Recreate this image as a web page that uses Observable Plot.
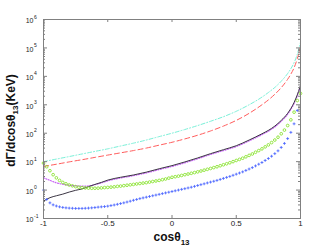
<!DOCTYPE html>
<html><head><meta charset="utf-8">
<script src="https://cdn.jsdelivr.net/npm/d3@7"></script>
<script src="https://cdn.jsdelivr.net/npm/@observablehq/plot@0.6"></script>
<style>body{margin:0;background:#fff} svg{display:block}</style>
</head><body><div id="chart"></div>
<script>
// ---- data ----
const cosDash = [-1,-0.9,-0.8,-0.7,-0.6,-0.5,-0.4,-0.3,-0.2,-0.1,0,0.1,0.2,0.3,0.4,0.5,0.6,0.7,0.75,0.8,0.85,0.9,0.925,0.95,0.975,1];
const cyanVals = [10,12.3,15.1,18.6,22.9,28.2,35.5,44.7,57.5,76,100,135,186,263,380,590,1000,1860,2700,4070,6760,12600,18600,30200,60000,158000];
const redVals  = [6.8,8.1,9.8,11.7,14.1,17,20.4,24.5,30,38,48,63,85,120,178,282,500,1000,1480,2340,4000,7900,12000,20000,42000,112000];

const cosLine = [-1,-0.95,-0.9,-0.85,-0.8,-0.75,-0.7,-0.65,-0.6,-0.55,-0.5,-0.4,-0.3,-0.2,-0.1,0,0.1,0.2,0.3,0.4,0.5,0.6,0.7,0.75,0.8,0.85,0.9,0.925,0.95,0.975,1];
const blackVals  = [0.41,0.54,0.63,0.72,0.85,0.98,1.1,1.32,1.58,1.86,2.24,2.82,3.39,4.27,5.62,7.24,9.77,13.5,19.1,26.3,36.3,57.5,95.5,126,178,282,501,741,1200,2240,4790];
const violetVals = [2.7,2.2,1.8,1.6,1.48,1.41,1.38,1.4,1.55,1.78,2.1,2.65,3.2,4.0,5.25,6.75,9.1,12.6,17.8,24.5,33.9,53.7,89,118,166,263,468,692,1120,2090,4470];

const cosPts = [-1,-0.975,-0.95,-0.925,-0.9,-0.875,-0.85,-0.825,-0.8,-0.775,
  -0.75,-0.725,-0.7,-0.675,-0.65,-0.625,-0.6,-0.575,-0.55,-0.525,
  -0.5,-0.475,-0.45,-0.425,-0.4,-0.375,-0.35,-0.325,-0.3,-0.275,
  -0.25,-0.225,-0.2,-0.175,-0.15,-0.125,-0.1,-0.075,-0.05,-0.025,
  0,0.025,0.05,0.075,0.1,0.125,0.15,0.175,0.2,0.225,
  0.25,0.275,0.3,0.325,0.35,0.375,0.4,0.425,0.45,0.475,
  0.5,0.525,0.55,0.575,0.6,0.625,0.65,0.675,0.7,0.725,
  0.75,0.775,0.8,0.825,0.85,0.875,0.9,0.925,0.95,0.975,1];
const greenVals = [8.91,6.61,4.79,3.47,2.69,2.19,1.86,1.66,1.51,1.41,
  1.32,1.26,1.22,1.19,1.17,1.16,1.16,1.17,1.19,1.22,
  1.24,1.27,1.30,1.35,1.38,1.43,1.48,1.53,1.58,1.64,
  1.70,1.76,1.82,1.91,2.00,2.09,2.19,2.32,2.45,2.63,
  2.82,2.95,3.09,3.27,3.47,3.67,3.89,4.12,4.37,4.68,
  5.01,5.37,5.75,6.17,6.61,7.16,7.76,8.41,9.12,10.0,
  11.0,12.0,13.2,14.8,16.6,18.6,21.4,24.5,28.2,33.1,
  38.9,46.8,57.5,72.4,95.5,129,186,295,550,1410,2510];
const blueVals = [1.00,0.468,0.355,0.302,0.275,0.257,0.245,0.237,0.232,0.229,
  0.226,0.226,0.226,0.229,0.232,0.237,0.243,0.251,0.257,0.263,
  0.272,0.285,0.299,0.316,0.335,0.355,0.380,0.407,0.437,0.468,
  0.501,0.531,0.562,0.596,0.631,0.668,0.708,0.750,0.794,0.841,
  0.891,0.944,1.00,1.06,1.12,1.19,1.26,1.35,1.45,1.55,
  1.66,1.78,1.91,2.04,2.19,2.37,2.57,2.79,3.02,3.31,
  3.63,3.98,4.37,4.90,5.50,6.17,7.08,8.13,9.33,11.0,
  12.9,15.5,19.1,24.0,31.6,43.7,64.6,107,214,631];

const xTicks = [-1,-0.5,0,0.5,1];
const xTickLabels = ["-1","-0.5","0","0.5","1"];
const yTicks = [0.1,1,10,100,1000,10000,100000,1000000];
const yExpLabels = ["-1","0","1","2","3","4","5","6"];

// ---- layout ----
const W = 332, H = 250, mL = 43, mR = 32, mT = 19, mB = 32;
const innerW = W - mL - mR, innerH = H - mT - mB;
const frameCol = "#808080";

const toRows = (xs, ys) => ys.map((v, i) => ({c: xs[i], v}));
const cyan = toRows(cosDash, cyanVals);
const red = toRows(cosDash, redVals);
const black = toRows(cosLine, blackVals);
const violet = toRows(cosLine, violetVals);
const green = toRows(cosPts, greenVals);
const blue = toRows(cosPts, blueVals);

const yMinor = [];
for (let e = -1; e < 6; e++) for (let m = 2; m < 10; m++) yMinor.push(m * Math.pow(10, e));

const plot = Plot.plot({
  width: W, height: H,
  marginLeft: mL, marginRight: mR, marginTop: mT, marginBottom: mB,
  style: {fontFamily: "'Liberation Sans', Arial, sans-serif", background: "white", overflow: "visible"},
  x: {domain: [-1, 1], axis: null},
  y: {type: "log", domain: [0.1, 1e6], axis: null},
  marks: [
    Plot.line(cyan, {x: "c", y: "v", stroke: "#7af0d8", strokeWidth: 1, strokeDasharray: "4,2,1,2", curve: "monotone-x"}),
    Plot.line(red, {x: "c", y: "v", stroke: "#ff5c5c", strokeWidth: 1, strokeDasharray: "5,3", curve: "monotone-x"}),
    Plot.line(violet, {x: "c", y: "v", stroke: "#c864f5", strokeWidth: 1.2, strokeDasharray: "1,1.5", curve: "monotone-x"}),
    Plot.line(black, {x: "c", y: "v", stroke: "#3c3644", strokeWidth: 1, curve: "monotone-x"}),
    Plot.dot(green, {x: "c", y: "v", r: 1.35, stroke: "#7ee01c", strokeWidth: 0.8, fill: "none"}),
    Plot.dot(blue, {x: "c", y: "v", r: 1.0, symbol: "plus", stroke: "#4460ff", strokeWidth: 0.8}),
    Plot.frame({stroke: frameCol}),
    // inward ticks
    Plot.tickX(xTicks.slice(1, -1), {x: d => d, insetTop: innerH - 3, stroke: frameCol}),
    Plot.tickX(xTicks.slice(1, -1), {x: d => d, insetBottom: innerH - 3, stroke: frameCol}),
    Plot.tickY(yTicks, {y: d => d, insetRight: innerW - 4, stroke: frameCol}),
    Plot.tickY(yTicks, {y: d => d, insetLeft: innerW - 4, stroke: frameCol}),
    Plot.tickY(yMinor, {y: d => d, insetRight: innerW - 2, stroke: frameCol}),
    Plot.tickY(yMinor, {y: d => d, insetLeft: innerW - 2, stroke: frameCol}),
    // tick labels
    Plot.text(xTicks, {x: d => d, frameAnchor: "bottom", dy: 7, text: (d, i) => xTickLabels[i], fontSize: 8, fill: "#222"}),
    Plot.text(yTicks, {y: d => d, frameAnchor: "left", dx: -10, dy: 1.5, textAnchor: "end", text: () => "10", fontSize: 7, fill: "#222"}),
    Plot.text(yTicks, {y: d => d, frameAnchor: "left", dx: -9.5, dy: -2.5, textAnchor: "start", text: (d, i) => yExpLabels[i], fontSize: 5, fill: "#222"})
  ]
});

const svg = d3.select(plot);
// y axis title
const yt = svg.append("text")
  .attr("transform", `translate(15,${mT + innerH / 2 + 2}) rotate(-90)`)
  .attr("text-anchor", "middle")
  .attr("font-family", "'Liberation Sans', Arial, sans-serif")
  .attr("font-weight", "bold").attr("font-size", 12).attr("fill", "#111");
yt.append("tspan").text("dΓ/dcosθ");
yt.append("tspan").attr("font-size", 8).attr("dy", 3).text("13");
yt.append("tspan").attr("dy", -3).text("(KeV)");
// x axis title
const xt = svg.append("text")
  .attr("x", mL + innerW / 2).attr("y", 241)
  .attr("text-anchor", "middle")
  .attr("font-family", "'Liberation Sans', Arial, sans-serif")
  .attr("font-weight", "bold").attr("font-size", 12).attr("fill", "#111");
xt.append("tspan").text("cosθ");
xt.append("tspan").attr("font-size", 8).attr("dy", 4).text("13");

document.getElementById("chart").appendChild(plot);
</script>
</body></html>
